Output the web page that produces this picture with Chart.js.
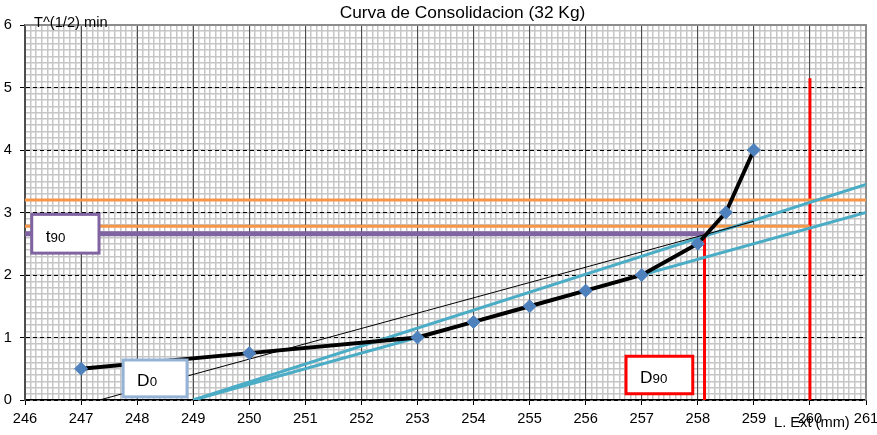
<!DOCTYPE html>
<html>
<head>
<meta charset="utf-8">
<script src="https://cdn.jsdelivr.net/npm/chart.js@4"></script>
<style>
body{margin:0;background:#ffffff;}
</style>
</head>
<body>
<canvas id="chart" width="877" height="435"></canvas>
<script>
// lecturas (extensometro vs raiz del tiempo)
const lengthMm = [247, 250, 253, 254, 255, 256, 257, 258, 258.5, 259];
const sqrtTime = [0.5, 0.75, 1, 1.25, 1.5, 1.75, 2, 2.5, 3, 4];

// rectas auxiliares
const tangentX = [247.33, 259];
const tangentY = [0, 2.86];
const slopeX = [249, 261];
const slopeY = [0, 3.0];
const slope115X = [249, 261];
const slope115Y = [0, 3.45];
const upperLevelX = [246, 261];
const upperLevelY = [3.2, 3.2];
const lowerLevelX = [246, 260];
const lowerLevelY = [2.78, 2.78];
const t90X = [246, 258.12];
const t90Y = [2.66, 2.66];
const d90X = [258.12, 258.12];
const d90Y = [2.66, 0];
const d100X = [260, 260];
const d100Y = [5.15, 0];

// ejes
const xTicks = [246, 247, 248, 249, 250, 251, 252, 253, 254, 255, 256, 257, 258, 259, 260, 261];
const yTicks = [0, 1, 2, 3, 4, 5, 6];

const FONT = 'Liberation Sans, Arial, sans-serif';

function pts(xs, ys){
    return xs.map((x, i) => ({x: x, y: ys[i]}));
}

function line(xs, ys, color, width){
    return {
        data: pts(xs, ys),
        showLine: true,
        borderColor: color,
        borderWidth: width,
        pointRadius: 0,
        pointHoverRadius: 0,
        fill: false
    };
}

function drawBox(c, sx, sy, x1, x2, y1, y2, color, main, sub){
    const l = sx.getPixelForValue(x1);
    const r = sx.getPixelForValue(x2);
    const t = sy.getPixelForValue(y1);
    const b = sy.getPixelForValue(y2);
    c.save();
    c.fillStyle = '#ffffff';
    c.fillRect(l, t, r - l, b - t);
    c.strokeStyle = color;
    c.lineWidth = 3;
    c.strokeRect(l, t, r - l, b - t);
    c.fillStyle = '#000000';
    c.textBaseline = 'alphabetic';
    c.textAlign = 'left';
    c.font = '17.33px ' + FONT;
    c.fillText(main, l + 14, b - 11);
    const w = c.measureText(main).width;
    c.font = '13.33px ' + FONT;
    c.fillText(sub, l + 14 + w, b - 11);
    c.restore();
}

const decorations = {
    id: 'decorations',
    beforeDatasetsDraw(chart){
        const c = chart.ctx;
        const a = chart.chartArea;
        c.save();
        c.strokeStyle = '#8c8c8c';
        c.lineWidth = 2;
        c.beginPath();
        c.moveTo(a.left, a.top);
        c.lineTo(a.right, a.top);
        c.lineTo(a.right, a.bottom);
        c.stroke();
        c.restore();
    },
    afterDatasetsDraw(chart){
        const c = chart.ctx;
        const sx = chart.scales.x;
        const sy = chart.scales.y;
        drawBox(c, sx, sy, 246.12, 247.32, 2.97, 2.35, '#8064a2', 't', '90');
        drawBox(c, sx, sy, 247.75, 248.89, 0.64, 0.05, '#95b3d7', 'D', '0');
        drawBox(c, sx, sy, 256.72, 257.91, 0.70, 0.10, '#ff0000', 'D', '90');
    },
    afterDraw(chart){
        const c = chart.ctx;
        c.save();
        c.fillStyle = '#000000';
        c.font = '17.33px ' + FONT;
        c.textAlign = 'center';
        c.textBaseline = 'middle';
        c.fillText('Curva de Consolidacion (32 Kg)', 462.5, 13);
        c.font = '14.67px ' + FONT;
        c.textAlign = 'left';
        c.textBaseline = 'alphabetic';
        c.fillText('T^(1/2) min', 34, 27);
        c.fillText('L. Ext (mm)', 774, 427);
        c.restore();
    }
};

function setData_consolidacion(){
    const ctx = document.getElementById('chart');

    new Chart(
        ctx,
        {
            type: 'scatter',
            plugins: [decorations],
            data: {
                datasets: [
                    {
                        label: 'Lecturas',
                        data: pts(lengthMm, sqrtTime),
                        showLine: true,
                        borderColor: '#000000',
                        borderWidth: 4,
                        pointStyle: 'rectRot',
                        pointRadius: 6.5,
                        pointHoverRadius: 6.5,
                        pointBackgroundColor: '#4f81bd',
                        pointBorderColor: '#4f81bd',
                        pointBorderWidth: 1
                    },
                    line(tangentX, tangentY, '#000000', 1),
                    line(slopeX, slopeY, '#4bacc6', 3),
                    line(slope115X, slope115Y, '#4bacc6', 3),
                    line(lowerLevelX, lowerLevelY, '#f79646', 3),
                    line(upperLevelX, upperLevelY, '#f79646', 3),
                    line(t90X, t90Y, '#8064a2', 5),
                    line(d90X, d90Y, '#ff0000', 3),
                    line(d100X, d100Y, '#ff0000', 3)
                ]
            },
            options: {
                responsive: false,
                animation: false,
                layout: {
                    padding: {top: 25, right: 11, left: 0, bottom: 0}
                },
                plugins: {
                    legend: {display: false},
                    tooltip: {enabled: false},
                    title: {display: false}
                },
                scales: {
                    xMinor: {
                        type: 'linear',
                        position: 'bottom',
                        min: 246,
                        max: 261,
                        ticks: {display: false, stepSize: 0.1},
                        grid: {color: '#c6c6c6', lineWidth: 1.5, drawTicks: false},
                        border: {display: false},
                        afterFit: s => { s.height = 0; s.paddingLeft = 0; s.paddingRight = 0; }
                    },
                    yMinor: {
                        type: 'linear',
                        position: 'left',
                        min: 0,
                        max: 6,
                        ticks: {display: false, stepSize: 0.1},
                        grid: {color: '#c6c6c6', lineWidth: 1.5, drawTicks: false},
                        border: {display: false},
                        afterFit: s => { s.width = 0; s.paddingTop = 0; s.paddingBottom = 0; }
                    },
                    x: {
                        type: 'linear',
                        position: 'bottom',
                        min: 246,
                        max: 261,
                        afterBuildTicks: s => { s.ticks = xTicks.map(v => ({value: v})); },
                        ticks: {
                            color: '#000000',
                            font: {family: FONT, size: 14.67},
                            padding: 5,
                            maxRotation: 0,
                            autoSkip: false
                        },
                        grid: {
                            color: '#4d4d4d',
                            lineWidth: 1,
                            tickLength: 5,
                            tickColor: '#000000'
                        },
                        border: {display: true, color: '#000000', width: 1.5},
                        afterFit: s => { s.height = 35; s.paddingLeft = 0; s.paddingRight = 0; }
                    },
                    y: {
                        type: 'linear',
                        position: 'left',
                        min: 0,
                        max: 6,
                        afterBuildTicks: s => { s.ticks = yTicks.map(v => ({value: v})); },
                        ticks: {
                            color: '#000000',
                            font: {family: FONT, size: 14.67},
                            padding: 8
                        },
                        grid: {
                            color: '#000000',
                            lineWidth: 1,
                            tickLength: 5,
                            tickColor: '#000000'
                        },
                        border: {display: true, color: '#4d4d4d', width: 2, dash: [4, 3]},
                        afterFit: s => { s.width = 25; s.paddingTop = 0; s.paddingBottom = 0; }
                    }
                }
            }
        }
    );
}

setData_consolidacion();
</script>
</body>
</html>
